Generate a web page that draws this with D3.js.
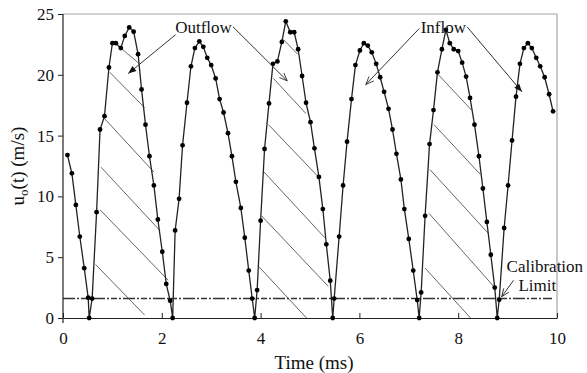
<!DOCTYPE html>
<html>
<head>
<meta charset="utf-8">
<script src="https://cdn.jsdelivr.net/npm/d3@7"></script>
<style>
  html, body { margin: 0; padding: 0; background: #fff; }
  svg { display: block; }
  text { font-family: "Liberation Serif", "Times New Roman", serif; fill: #111; }
</style>
</head>
<body>
<svg id="chart" width="587" height="373"></svg>
<script>
// Velocity record u_o(t): sample times (ms) and velocities (m/s)
const time = [
  0.09, 0.18, 0.26, 0.34, 0.43, 0.51, 0.53, 0.59, 0.68, 0.75,
  0.84, 0.93, 1.00, 1.07, 1.17, 1.25, 1.34, 1.43, 1.52, 1.59,
  1.67, 1.75, 1.84, 1.92, 2.01, 2.09, 2.17, 2.22, 2.27, 2.35,
  2.42, 2.51, 2.59, 2.67, 2.76, 2.84, 2.92, 3.00, 3.09, 3.17,
  3.25, 3.34, 3.42, 3.50, 3.60, 3.68, 3.76, 3.83, 3.88, 3.93,
  4.00, 4.08, 4.17, 4.25, 4.34, 4.43, 4.51, 4.60, 4.68, 4.76,
  4.84, 4.92, 5.01, 5.09, 5.18, 5.26, 5.33, 5.41, 5.46, 5.49,
  5.59, 5.67, 5.75, 5.84, 5.92, 6.01, 6.09, 6.17, 6.25, 6.34,
  6.42, 6.50, 6.59, 6.67, 6.75, 6.84, 6.91, 7.00, 7.09, 7.17,
  7.21, 7.25, 7.33, 7.42, 7.50, 7.58, 7.67, 7.75, 7.83, 7.91,
  8.00, 8.08, 8.16, 8.24, 8.33, 8.42, 8.50, 8.58, 8.66, 8.74,
  8.79, 8.83, 8.93, 9.01, 9.09, 9.17, 9.25, 9.33, 9.41, 9.49,
  9.58, 9.66, 9.75, 9.84, 9.92
];
const velocity = [
  13.4, 11.9, 9.3, 6.7, 4.1, 1.67, 0, 1.6, 8.7, 15.5,
  16.6, 20.6, 22.6, 22.6, 22.2, 23.2, 23.9, 23.55, 21.7, 18.8,
  15.9, 13.3, 10.9, 8.1, 5.45, 2.8, 1.42, 0, 7.2, 9.8,
  14.2, 17.7, 20.7, 22.2, 22.75, 22.3, 21.4, 20.8, 19.7, 18.0,
  16.9, 15.2, 13.3, 11.2, 9.05, 6.6, 3.9, 1.6, 0, 2.3,
  8.0, 13.9, 17.65, 20.9, 21.1, 22.7, 24.4, 23.5, 23.5, 22.1,
  19.9, 17.7, 16.1, 13.95, 11.6, 8.96, 6.06, 3.07, 0, 1.6,
  6.7, 10.9, 14.5, 18.0, 20.8, 22.0, 22.6, 22.4, 21.85, 20.9,
  19.8, 18.6, 17.2, 15.5, 13.5, 11.4, 8.96, 6.5, 3.9, 1.48,
  0, 2.1, 8.4, 14.3, 17.1, 20.2, 22.1, 23.7, 22.6, 22.1,
  21.95, 21.0, 19.85, 18.1, 15.9, 13.3, 10.65, 7.9, 5.2, 2.5,
  0, 1.5, 7.4, 10.9, 14.6, 18.2, 20.9, 22.2, 22.6, 22.2,
  21.4, 20.7, 19.8, 18.4, 17.0
];

// Axis ticks
const xTicks = [0, 2, 4, 6, 8, 10];
const yTicks = [0, 5, 10, 15, 20, 25];

// Calibration limit (m/s)
const calibrationLimit = 1.6;

// Hatching inside the outflow lobes: [t1, v1, t2, v2]
const hatchLines = [
  [1.17, 22.2, 1.55, 20.9],
  [0.95, 20.2, 1.65, 17.3],
  [0.84, 16.4, 1.84, 12.0],
  [0.77, 12.4, 1.96, 7.2],
  [0.75, 8.9, 2.13, 3.1],
  [0.66, 4.4, 1.65, 0.25],
  [4.46, 22.9, 4.75, 21.7],
  [4.26, 19.7, 4.92, 16.8],
  [4.16, 15.9, 5.17, 11.6],
  [4.07, 12.0, 5.30, 6.6],
  [4.02, 8.4, 5.37, 2.6],
  [3.97, 4.2, 4.93, 0],
  [7.60, 20.0, 8.27, 17.1],
  [7.51, 15.9, 8.45, 11.8],
  [7.43, 12.2, 8.60, 7.0],
  [7.41, 8.6, 8.74, 2.5],
  [7.33, 4.1, 8.25, 0]
];

// Leader arrows: [fromT, fromV, toT, toV, head]
const arrows = [
  [2.28, 23.3, 1.32, 20.1, "solid"],
  [3.44, 23.95, 4.54, 19.5, "open"],
  [7.21, 23.8, 6.13, 19.2, "open"],
  [8.18, 23.95, 9.29, 18.6, "solid"],
  [9.12, 3.1, 8.88, 1.75, "open"]
];

// Labels: [text, t, v]
const labels = [
  ["Outflow", 2.27, 23.45],
  ["Inflow", 7.24, 23.45],
  ["Calibration", 8.98, 3.8],
  ["Limit", 9.22, 2.2]
];

const svg = d3.select("#chart");
const m = { left: 63, right: 557, top: 14, bottom: 318 };

const x = d3.scaleLinear().domain([0, 10]).range([m.left, m.right]);
const y = d3.scaleLinear().domain([0, 25]).range([m.bottom, m.top]);

// Arrowhead markers
const defs = svg.append("defs");
defs.append("marker")
  .attr("id", "head-solid")
  .attr("markerUnits", "userSpaceOnUse")
  .attr("viewBox", "0 -5 10 10")
  .attr("refX", 10).attr("refY", 0)
  .attr("markerWidth", 10).attr("markerHeight", 8)
  .attr("orient", "auto")
  .append("path")
  .attr("d", "M0,-4L10,0L0,4Z")
  .attr("fill", "#111");
defs.append("marker")
  .attr("id", "head-open")
  .attr("markerUnits", "userSpaceOnUse")
  .attr("viewBox", "0 -5 10 10")
  .attr("refX", 10).attr("refY", 0)
  .attr("markerWidth", 9).attr("markerHeight", 8)
  .attr("orient", "auto")
  .append("path")
  .attr("d", "M0,-4L10,0L0,4")
  .attr("fill", "none")
  .attr("stroke", "#333")
  .attr("stroke-width", 1.1);

// Frame: grey top and right edges
svg.append("path")
  .attr("d", `M${m.left},${m.top}H${m.right}V${m.bottom}`)
  .attr("fill", "none")
  .attr("stroke", "#a6a6a6")
  .attr("stroke-width", 1.2);

// Hatching
svg.append("g").selectAll("line")
  .data(hatchLines)
  .join("line")
  .attr("x1", d => x(d[0])).attr("y1", d => y(d[1]))
  .attr("x2", d => x(d[2])).attr("y2", d => y(d[3]))
  .attr("stroke", "#555")
  .attr("stroke-width", 0.9);

// Calibration limit line
svg.append("line")
  .attr("x1", x(0)).attr("x2", x(9.9))
  .attr("y1", y(calibrationLimit)).attr("y2", y(calibrationLimit))
  .attr("stroke", "#333")
  .attr("stroke-width", 1.6)
  .attr("stroke-dasharray", "12,2,2,2,6,2,2,2");

// Axes
const xAxis = d3.axisBottom(x).tickValues(xTicks).tickSize(-5).tickPadding(14).tickSizeOuter(0);
const yAxis = d3.axisLeft(y).tickValues(yTicks).tickSize(5).tickPadding(4).tickSizeOuter(0);

const gx = svg.append("g").attr("transform", `translate(0,${m.bottom})`).call(xAxis);
const gy = svg.append("g").attr("transform", `translate(${m.left},0)`).call(yAxis);
[gx, gy].forEach(g => {
  g.select(".domain").attr("stroke", "#222").attr("stroke-width", 1.2);
  g.selectAll(".tick line").attr("stroke", "#222");
  g.selectAll(".tick text")
    .attr("font-family", "Liberation Serif, Times New Roman, serif")
    .attr("font-size", 17)
    .attr("fill", "#111");
});
gy.select(".domain").attr("d", `M0,${m.top}V${m.bottom + 5}`);

// Velocity trace
const line = d3.line().x(i => x(time[i])).y(i => y(velocity[i]));
svg.append("path")
  .datum(d3.range(time.length))
  .attr("d", line)
  .attr("fill", "none")
  .attr("stroke", "#222")
  .attr("stroke-width", 1.3);

svg.append("g").selectAll("circle")
  .data(d3.range(time.length))
  .join("circle")
  .attr("cx", i => x(time[i]))
  .attr("cy", i => y(velocity[i]))
  .attr("r", 2.4)
  .attr("fill", "#000");

// Leader arrows
svg.append("g").selectAll("line")
  .data(arrows)
  .join("line")
  .attr("x1", d => x(d[0])).attr("y1", d => y(d[1]))
  .attr("x2", d => x(d[2])).attr("y2", d => y(d[3]))
  .attr("stroke", "#333")
  .attr("stroke-width", 1)
  .attr("marker-end", d => `url(#head-${d[4]})`);

// Annotation labels
svg.append("g").selectAll("text")
  .data(labels)
  .join("text")
  .attr("x", d => x(d[1]))
  .attr("y", d => y(d[2]))
  .attr("font-size", 17)
  .text(d => d[0]);

// Axis titles
svg.append("text")
  .attr("x", 314).attr("y", 369)
  .attr("text-anchor", "middle")
  .attr("font-size", 19)
  .text("Time (ms)");

const yTitle = svg.append("text")
  .attr("transform", `translate(24,${(m.top + m.bottom) / 2}) rotate(-90)`)
  .attr("text-anchor", "middle")
  .attr("font-size", 19);
yTitle.append("tspan").text("u");
yTitle.append("tspan").attr("font-size", 13).attr("dy", 4).text("o");
yTitle.append("tspan").attr("dy", -4).text("(t) (m/s)");
</script>
</body>
</html>
